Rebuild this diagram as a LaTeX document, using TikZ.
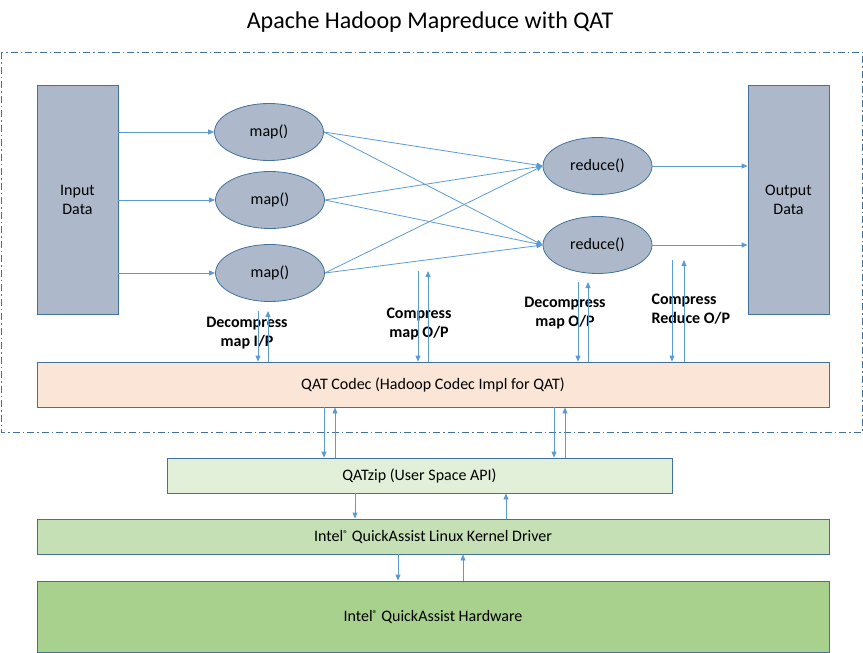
\documentclass[tikz,border=0pt]{standalone}
\usepackage{fontspec}
\setmainfont{Carlito}
\usetikzlibrary{shapes.geometric,arrows.meta}
\definecolor{edge}{HTML}{41719C}
\definecolor{link}{HTML}{5B9BD5}
\definecolor{slate}{HTML}{ADB9CA}
\definecolor{peach}{HTML}{FBE5D6}
\definecolor{mint}{HTML}{E2F0D9}
\definecolor{leaf}{HTML}{C5E0B4}
\definecolor{moss}{HTML}{A9D18E}
\newcommand{\regmark}{\raisebox{0.45ex}{\fontsize{10}{10}\selectfont\textregistered}}
\begin{document}
\begin{tikzpicture}[x=1pt,y=-1pt,
    every node/.style={font=\fontsize{16}{19}\selectfont},
    box/.style={draw=edge,line width=0.8pt,inner sep=0pt,align=center},
    oval/.style={ellipse,draw=edge,line width=0.8pt,fill=slate,inner sep=0pt,
      minimum width=109pt,minimum height=57pt},
    arr/.style={draw=link,line width=0.8pt,-{Triangle[length=6pt,width=5pt]}},
    tag/.style={font=\bfseries\fontsize{16}{19}\selectfont,align=center}]
  \useasboundingbox (0,0) rectangle (863,653);
  \node[font=\fontsize{24}{28}\selectfont] (title) at (430,22) {Apache Hadoop Mapreduce with QAT};
  \draw[edge,line width=0.8pt,dash pattern=on 7pt off 3pt on 1.5pt off 3pt]
    (1,52) rectangle (862,432);
  \node[box,fill=slate,minimum width=81pt,minimum height=229pt] (input) at (77.5,199.5) {Input\\Data};
  \node[box,fill=slate,minimum width=81pt,minimum height=229pt] (output) at (788.5,199.5) {Output\\Data};
  \node[oval] (map1) at (269,132) {map()};
  \node[oval] (map2) at (270,200) {map()};
  \node[oval] (map3) at (270,273) {map()};
  \node[oval] (red1) at (597.5,166) {reduce()};
  \node[oval] (red2) at (597.5,245) {reduce()};
  \node[box,fill=peach,minimum width=792pt,minimum height=45pt] (codec) at (433,384.5) {QAT Codec (Hadoop Codec Impl for QAT)};
  \node[box,fill=mint,minimum width=505pt,minimum height=35pt] (qatzip) at (419.5,475.5) {QATzip (User Space API)};
  \node[box,fill=leaf,minimum width=792pt,minimum height=35pt] (driver) at (433,536.5) {Intel\regmark{} QuickAssist Linux Kernel Driver};
  \node[box,fill=moss,minimum width=792pt,minimum height=71pt] (hw) at (433,616.5) {Intel\regmark{} QuickAssist Hardware};
  \node[tag] (dmi) at (247,333) {Decompress\\map I/P};
  \node[tag] (cmo) at (419,324.5) {Compress\\map O/P};
  \node[tag] (dmo) at (565,313.5) {Decompress\\map O/P};
  \node[tag,align=left,anchor=west] (cro) at (648,309.5) {Compress\\Reduce O/P};
  \coordinate (d1) at (258,311);
  \coordinate (u1) at (268,311);
  \coordinate (d2) at (418,271);
  \coordinate (u2) at (428,271);
  \coordinate (d3) at (578,282);
  \coordinate (u3) at (588,282);
  \coordinate (d4) at (672,260);
  \coordinate (u4) at (684,260);
  \coordinate (z1) at (324,0);
  \coordinate (z2) at (335,0);
  \coordinate (z3) at (554,0);
  \coordinate (z4) at (565,0);
  \coordinate (k1) at (355,0);
  \coordinate (k2) at (506,0);
  \coordinate (h1) at (398,0);
  \coordinate (h2) at (463,0);
  \begin{scope}[arr]
    \draw (input.east |- map1) -- (map1);
    \draw (input.east |- map2) -- (map2);
    \draw (input.east |- map3) -- (map3);
    \draw (map1.east) -- (red1.west);
    \draw (map1.east) -- (red2.west);
    \draw (map2.east) -- (red1.west);
    \draw (map2.east) -- (red2.west);
    \draw (map3.east) -- (red1.west);
    \draw (map3.east) -- (red2.west);
    \draw (red1.east) -- (output.west |- red1);
    \draw (red2.east) -- (output.west |- red2);
    \draw (d1) -- (codec.north -| d1);
    \draw (codec.north -| u1) -- (u1);
    \draw (d2) -- (codec.north -| d2);
    \draw (codec.north -| u2) -- (u2);
    \draw (d3) -- (codec.north -| d3);
    \draw (codec.north -| u3) -- (u3);
    \draw (d4) -- (codec.north -| d4);
    \draw (codec.north -| u4) -- (u4);
    \draw (codec.south -| z1) -- (qatzip.north -| z1);
    \draw (qatzip.north -| z2) -- (codec.south -| z2);
    \draw (codec.south -| z3) -- (qatzip.north -| z3);
    \draw (qatzip.north -| z4) -- (codec.south -| z4);
    \draw (qatzip.south -| k1) -- (driver.north -| k1);
    \draw (driver.north -| k2) -- (qatzip.south -| k2);
    \draw (driver.south -| h1) -- (hw.north -| h1);
    \draw (hw.north -| h2) -- (driver.south -| h2);
  \end{scope}
\end{tikzpicture}
\end{document}
